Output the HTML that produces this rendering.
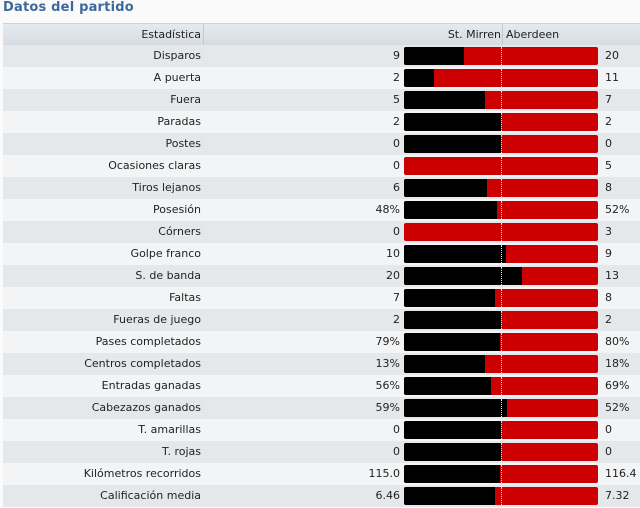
<!DOCTYPE html>
<html><head><meta charset="utf-8">
<style>
body{margin:0;width:640px;height:508px;background:#fafafa;font-family:"DejaVu Sans","Liberation Sans",sans-serif;font-size:11px;color:#222;overflow:hidden;position:relative}
#title{position:absolute;left:3px;top:0px;font-size:13px;font-weight:bold;color:#3d6a9c;letter-spacing:0.2px}
#hdr{position:absolute;left:3px;top:23px;width:637px;height:21px;background:linear-gradient(#e6eaee,#d6dce2);border-top:1px solid #cdd3d9;border-bottom:1px solid #c7cdd3}
.row{position:absolute;left:3px;width:637px;height:22px}
.lab{position:absolute;right:439px;top:4px;white-space:nowrap}
.lv{position:absolute;right:240px;top:4px}
.rv{position:absolute;left:602px;top:4px}
.bar{position:absolute;left:401px;top:2px;width:194px;height:18px;border-radius:2px;overflow:hidden;background:#cc0000}
.blk{position:absolute;left:0;top:0;height:18px;background:#000}
.mid{position:absolute;left:97px;top:0;height:18px;border-left:1px dotted #ddd}
</style></head><body>
<div id="title">Datos del partido</div>
<div id="hdr">
<div style="position:absolute;left:0;top:0;width:200px;height:21px;border-right:1px solid #c3c9cf"></div>
<div style="position:absolute;right:439px;top:4px">Estadística</div>
<div style="position:absolute;right:139px;top:4px">St. Mirren</div>
<div style="position:absolute;left:499px;top:0;height:21px;border-left:1px solid #c3c9cf"></div>
<div style="position:absolute;left:503px;top:4px">Aberdeen</div>
</div>
<div id="rows"></div>
<script>
const labels=["Disparos","A puerta","Fuera","Paradas","Postes","Ocasiones claras","Tiros lejanos","Posesión","Córners","Golpe franco","S. de banda","Faltas","Fueras de juego","Pases completados","Centros completados","Entradas ganadas","Cabezazos ganados","T. amarillas","T. rojas","Kilómetros recorridos","Calificación media"];
const homeValues=[9,2,5,2,0,0,6,48,0,10,20,7,2,79,13,56,59,0,0,115.0,6.46];
const awayValues=[20,11,7,2,0,5,8,52,3,9,13,8,2,80,18,69,52,0,0,116.4,7.32];
const homeText=["9","2","5","2","0","0","6","48%","0","10","20","7","2","79%","13%","56%","59%","0","0","115.0","6.46"];
const awayText=["20","11","7","2","0","5","8","52%","3","9","13","8","2","80%","18%","69%","52%","0","0","116.4","7.32"];
const W=194;
function share(h,a){return (h+a)===0?0.5:h/(h+a);}
const c=document.getElementById('rows');
labels.forEach((l,i)=>{
  const r=document.createElement('div');
  r.className='row';
  
  
  r.style.top=(45+i*22)+'px';
  r.style.background=i%2===0?'#e5e8eb':'#f3f4f5';
  r.innerHTML='<div class="lab">'+l+'</div><div class="lv">'+homeText[i]+'</div><div class="rv">'+awayText[i]+'</div>';
  const b=document.createElement('div');
  b.className='bar';
  
  
  const k=document.createElement('div');
  k.className='blk';
  
  
  k.style.width=(share(homeValues[i],awayValues[i])*W)+'px';
  const m=document.createElement('div');
  m.className='mid';
  
  
  b.appendChild(k);b.appendChild(m);r.appendChild(b);
  c.appendChild(r);
});
</script>
</body></html>
